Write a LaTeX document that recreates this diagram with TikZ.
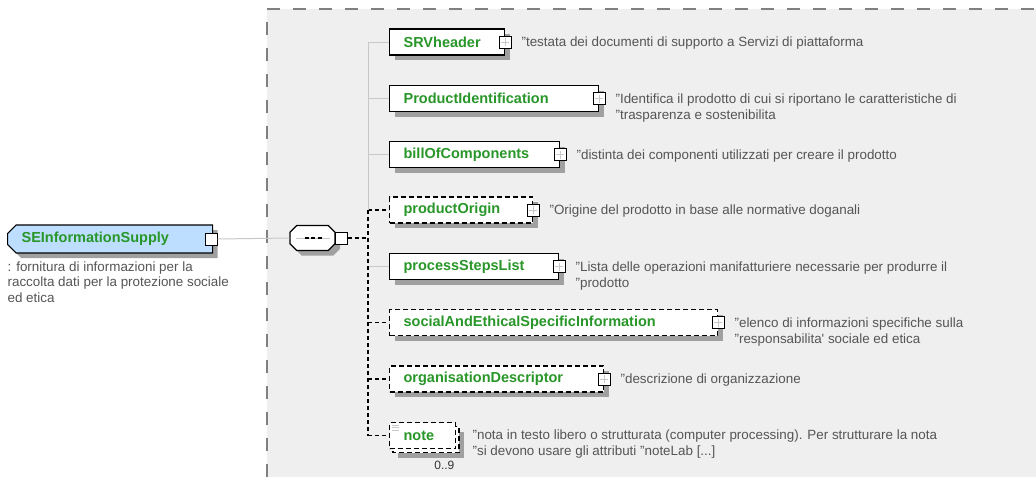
\documentclass[tikz,border=0pt]{standalone}
\usepackage{fontspec}
\setmainfont{Liberation Sans}
\usetikzlibrary{shapes.misc,shadows}

\definecolor{framegray}{RGB}{239,239,239}
\definecolor{framedash}{RGB}{128,128,128}
\definecolor{linkgray}{RGB}{200,200,200}
\definecolor{shadegray}{RGB}{160,160,160}
\definecolor{docgray}{RGB}{85,85,85}
\definecolor{namegreen}{RGB}{40,150,40}
\definecolor{rootblue}{RGB}{190,222,255}

\begin{document}
\begin{tikzpicture}[x=1pt, y=-1pt, line width=1.2pt]
	\tikzstyle{shade}    = [drop shadow={shadow xshift=5pt, shadow yshift=-5pt, fill=shadegray, opacity=1}]
	\tikzstyle{elemname} = [text=namegreen, font=\bfseries\fontsize{14.5}{16}\selectfont]
	\tikzstyle{elem}     = [elemname, draw=black, fill=white, anchor=west, minimum height=26pt, inner xsep=14pt, inner ysep=0pt, align=left]
	\tikzstyle{elemmand} = [elem, shade]
	\tikzstyle{elemopt}  = [elem, shade, dash pattern=on 5pt off 3pt]
	\tikzstyle{expbox}   = [draw=black, fill=white, minimum size=12pt, inner sep=0pt, line width=1pt]
	\tikzstyle{plusmark} = [draw=linkgray, line width=0.8pt]
	\tikzstyle{doc}      = [anchor=north west, align=left, inner sep=0pt, text=docgray, font=\fontsize{13.4}{16}\selectfont]
	\tikzstyle{linkmand} = [draw=linkgray, line width=1pt]
	\tikzstyle{linkopt}  = [draw=black, line width=1.2pt, dash pattern=on 4pt off 3pt]

	\useasboundingbox (0,0) rectangle (1036,477);
	\fill[white] (0,0) rectangle (1036,477);

	% content model frame
	\fill[framegray] (267,9) rectangle (1036,477);
	\draw[framedash, line width=1.8pt, dash pattern=on 13pt off 13pt] (267,477) -- (267,9) -- (1036,9);

	% root element
	\node[elemname, shade, chamfered rectangle, chamfered rectangle corners={north west,south west}, chamfered rectangle xsep=5pt,
	      draw=black, fill=rootblue, anchor=west, minimum width=205pt, minimum height=28pt, inner xsep=2pt, inner ysep=0pt,
	      text width=177pt, align=left] (root) at (7,239) {SEInformationSupply};
	\node[expbox] (root-exp) at ([xshift=-2pt]root.east) {};
	\node[doc, font=\fontsize{13.4}{15.5}\selectfont] (root-doc) at (7,261) {: fornitura di informazioni per la\\raccolta dati per la protezione sociale\\ed etica};

	% sequence
	\node[shade, chamfered rectangle, chamfered rectangle xsep=6pt, draw=black, fill=white, minimum width=45pt, minimum height=25pt] (seq) at (312.5,238) {};
	\draw[linkmand] ([xshift=7pt]seq.west) -- ([xshift=-6pt]seq.east);
	\draw[line width=2pt, dash pattern=on 4pt off 2.5pt] ([xshift=-8pt]seq.center) -- ([xshift=10pt]seq.center);
	\node[expbox, anchor=west] (seq-exp) at ([xshift=-1pt]seq.east) {};
	\draw[linkmand] (root-exp.east) -- (seq.west);

	\coordinate (spine) at (368,0);

	\foreach \name/\y/\xr/\kind/\docline in {
		SRVheader/42/504/mand/{"testata dei documenti di supporto a Servizi di piattaforma},
		ProductIdentification/98.5/598/mand/{"Identifica il prodotto di cui si riportano le caratteristiche di\\"trasparenza e sostenibilita},
		billOfComponents/154.5/559/mand/{"distinta dei componenti utilizzati per creare il prodotto},
		productOrigin/210/532/opt/{"Origine del prodotto in base alle normative doganali},
		processStepsList/266.5/558/mand/{"Lista delle operazioni manifatturiere necessarie per produrre il\\"prodotto},
		socialAndEthicalSpecificInformation/322.5/717/opt/{"elenco di informazioni specifiche sulla\\"responsabilita\textquotesingle{} sociale ed etica},
		organisationDescriptor/379/603/opt/{"descrizione di organizzazione}}
	{
		\pgfmathsetmacro\tw{\xr-417}
		\node[elem\kind, text width=\tw pt] (\name) at (389,\y) {\name};
		\node[expbox] (\name-exp) at (\name.east) {};
		\draw[plusmark] (\name-exp.center) +(-4,0) -- +(4,0) +(0,-4) -- +(0,4);
		\node[doc] (\name-doc) at (\xr+17,\y-5.5) {\docline};
		\draw[link\kind] (spine |- \name.west) -- (\name.west);
	}

	% note, 0..9
	\fill[shadegray] (398,431.5) rectangle (464,457.5);
	\draw[fill=white, line width=1.2pt, dash pattern=on 5pt off 3pt] (393,426.5) rectangle (459,452.5);
	\node[elem, dash pattern=on 5pt off 3pt, text width=38pt] (note) at (389,435.5) {note};
	\foreach \dy in {0,2.5,5}
		\draw[draw=linkgray, line width=0.7pt] ([shift={(3,3+\dy)}]note.north west) -- ++(7,0);
	\node[doc] (note-doc) at (472,429.5) {"nota in testo libero o strutturata (computer processing). Per strutturare la nota\\"si devono usare gli attributi "noteLab [...]};
	\node[anchor=east, inner sep=0pt, text=black!80, font=\fontsize{12}{14}\selectfont] (note-mult) at (455,465) {0..9};
	\draw[linkopt] (spine |- note.west) -- (note.west);

	% spine
	\draw[linkmand] (spine |- SRVheader.west) -- (spine |- productOrigin.west);
	\draw[linkopt] (spine |- productOrigin.west) -- (spine |- note.west);
	\draw[linkopt] (seq-exp.east) -- (spine |- seq-exp.east);

\end{tikzpicture}
\end{document}
